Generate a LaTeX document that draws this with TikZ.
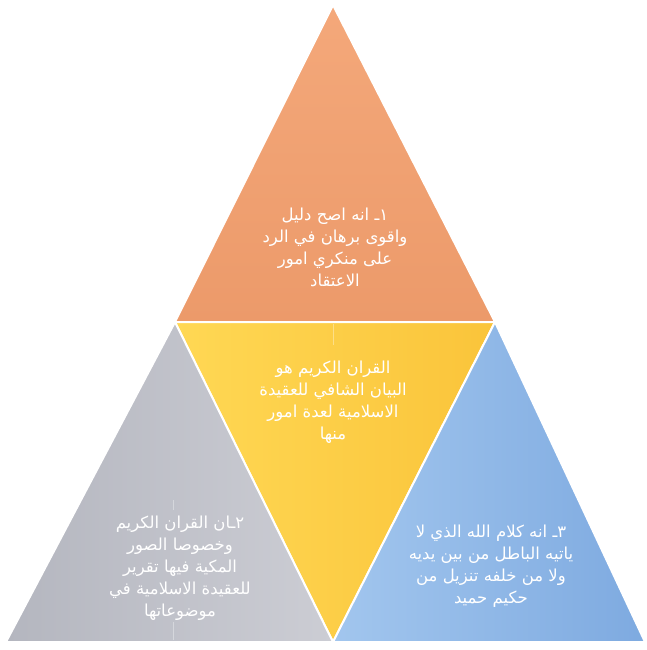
\documentclass[tikz,border=0pt]{standalone}
\usepackage{fontspec}
\newfontfamily\arabicfont[Script=Arabic]{DejaVu Sans}
\TeXXeTstate=1
\definecolor{orA}{RGB}{244,168,122}
\definecolor{orB}{RGB}{236,154,106}
\definecolor{yeA}{RGB}{255,216,84}
\definecolor{yeB}{RGB}{250,196,58}
\definecolor{grA}{RGB}{204,205,212}
\definecolor{grB}{RGB}{180,182,191}
\definecolor{blA}{RGB}{162,198,238}
\definecolor{blB}{RGB}{126,170,224}
\tikzset{
  tri/.style={draw=white, line width=2pt, line join=miter},
  lbl/.style={text=white, align=center, font=\arabicfont\fontsize{16.5}{22}\selectfont},
  guide/.style={draw=white, opacity=0.35, line width=0.6pt}
}
\begin{document}
\begin{tikzpicture}[x=1pt,y=-1pt]
\useasboundingbox[fill=white] (0,0) rectangle (646,650);
% corner points
\coordinate (T) at (333,5);
\coordinate (ML) at (175,322);
\coordinate (MR) at (495,322);
\coordinate (BL) at (6,642);
\coordinate (BM) at (333,642);
\coordinate (BR) at (645,642);
% triangles
\shade[tri, top color=orA, bottom color=orB] (T) -- (MR) -- (ML) -- cycle;
\shade[tri, left color=yeA, right color=yeB] (ML) -- (MR) -- (BM) -- cycle;
\shade[tri, left color=grB, right color=grA] (ML) -- (BM) -- (BL) -- cycle;
\shade[tri, left color=blA, right color=blB] (MR) -- (BR) -- (BM) -- cycle;
% faint guide lines
\draw[guide] (333,324) -- (333,345);
\draw[guide] (173,500) -- (173,510);
\draw[guide] (173,622) -- (173,640);
% labels
\node[lbl] (top) at (335,247) {\beginR ١ـ انه اصح دليل\endR\\ \beginR واقوى برهان في الرد\endR\\ \beginR على منكري امور\endR\\ \beginR الاعتقاد\endR};
\node[lbl] (mid) at (333,402) {\beginR القران الكريم هو\endR\\ \beginR البيان الشافي للعقيدة\endR\\ \beginR الاسلامية لعدة امور\endR\\ \beginR منها\endR};
\node[lbl] (left) at (180,568) {\beginR ٢ـان القران الكريم\endR\\ \beginR وخصوصا الصور\endR\\ \beginR المكية فيها تقرير\endR\\ \beginR للعقيدة الاسلامية في\endR\\ \beginR موضوعاتها\endR};
\node[lbl] (right) at (491,566) {\beginR ٣ـ انه كلام الله الذي لا\endR\\ \beginR ياتيه الباطل من بين يديه\endR\\ \beginR ولا من خلفه تنزيل من\endR\\ \beginR حكيم حميد\endR};
\end{tikzpicture}
\end{document}
